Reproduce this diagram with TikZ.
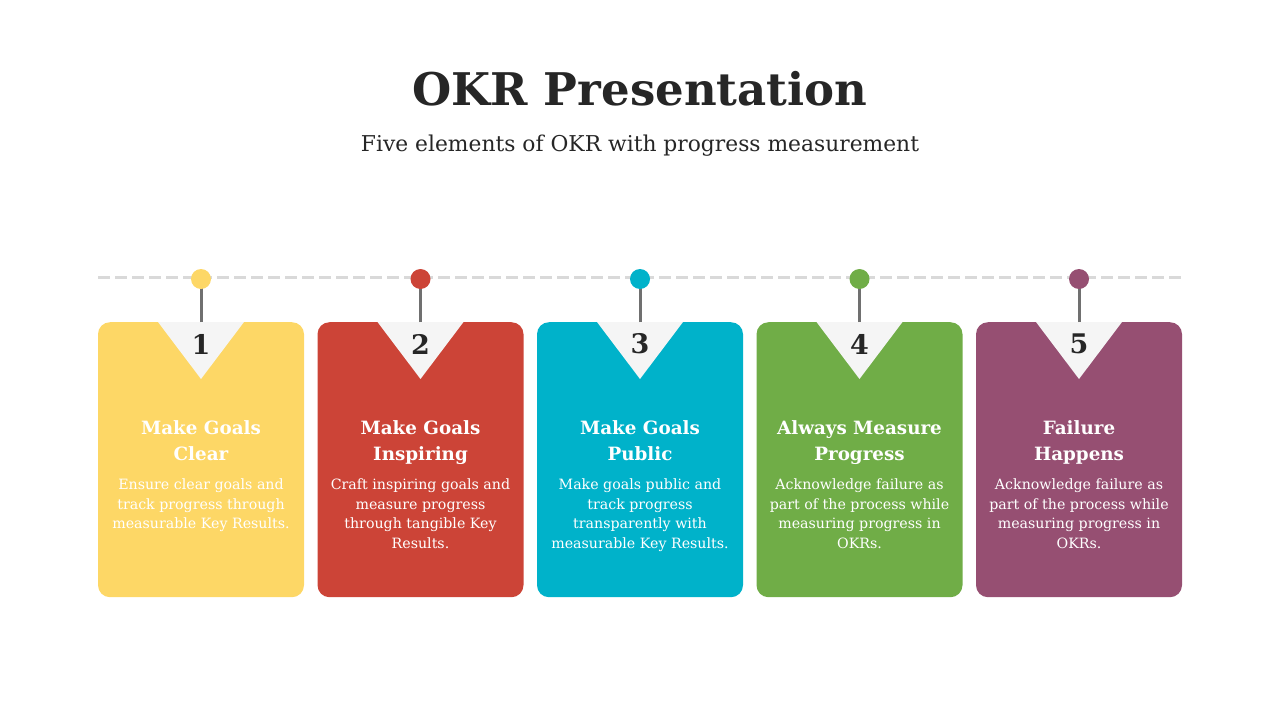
\documentclass[tikz,border=0pt]{standalone}
\usepackage{fontspec}
\setmainfont{DejaVu Serif}
\definecolor{cyel}{HTML}{FDD766}
\definecolor{cred}{HTML}{CC4437}
\definecolor{ccya}{HTML}{00B2CA}
\definecolor{cgre}{HTML}{70AD47}
\definecolor{cpur}{HTML}{964F72}
\definecolor{ink}{HTML}{262626}
\definecolor{dashgray}{HTML}{D9D9D9}
\definecolor{stemgray}{HTML}{707070}
\definecolor{tri}{HTML}{F5F5F5}
\tikzset{
  card/.style={fill=#1, draw=none, rounded corners=12pt, minimum width=206pt, minimum height=275pt, anchor=north, inner sep=0pt},
  pin/.style={circle, fill=#1, draw=none, minimum size=20pt, inner sep=0pt},
  stem/.style={draw=stemgray, line width=3pt},
  numtxt/.style={text=ink, font=\fontsize{27}{30}\selectfont\bfseries},
  headtxt/.style={text=white, align=center, anchor=north, font=\fontsize{18.3}{26}\selectfont\bfseries},
  bodytxt/.style={text=white, align=center, anchor=north, font=\fontsize{14.2}{19.5}\selectfont},
}
\begin{document}
\begin{tikzpicture}[x=1pt,y=-1pt]
\useasboundingbox (0,0) rectangle (1280,720);
\node[text=ink, font=\fontsize{45}{50}\selectfont\bfseries] (title) at (640,89) {OKR Presentation};
\node[text=ink, font=\fontsize{21.8}{26}\selectfont] (sub) at (640,146) {Five elements of OKR with progress measurement};
\coordinate (dl) at (98,277);
\coordinate (dr) at (1182,277);
\draw[dashgray, line width=3pt, dash pattern=on 12pt off 5pt] (dl) -- (dr);
\foreach \i/\x/\col/\head/\body in {
  1/201/cyel/{Make Goals\\Clear}/{Ensure clear goals and\\track progress through\\measurable Key Results.},
  2/420.5/cred/{Make Goals\\Inspiring}/{Craft inspiring goals and\\measure progress\\through tangible Key\\Results.},
  3/640/ccya/{Make Goals\\Public}/{Make goals public and\\track progress\\transparently with\\measurable Key Results.},
  4/859.5/cgre/{Always Measure\\Progress}/{Acknowledge failure as\\part of the process while\\measuring progress in\\OKRs.},
  5/1079/cpur/{Failure\\Happens}/{Acknowledge failure as\\part of the process while\\measuring progress in\\OKRs.}}{
  \node[card=\col] (c\i) at (\x,322) {};
  \fill[tri] ([xshift=-43pt]c\i.north) -- ([xshift=43pt]c\i.north) -- ([yshift=-57pt]c\i.north) -- cycle;
  \node[numtxt] (n\i) at (\x,344) {\i};
  \draw[stem] (c\i.north) -- (\x,282) coordinate (s\i);
  \node[pin=\col] (p\i) at (\x,279) {};
  \node[headtxt] (h\i) at (\x,417.5) {\head};
  \node[bodytxt] (b\i) at (\x,475.5) {\body};
}
\end{tikzpicture}
\end{document}
